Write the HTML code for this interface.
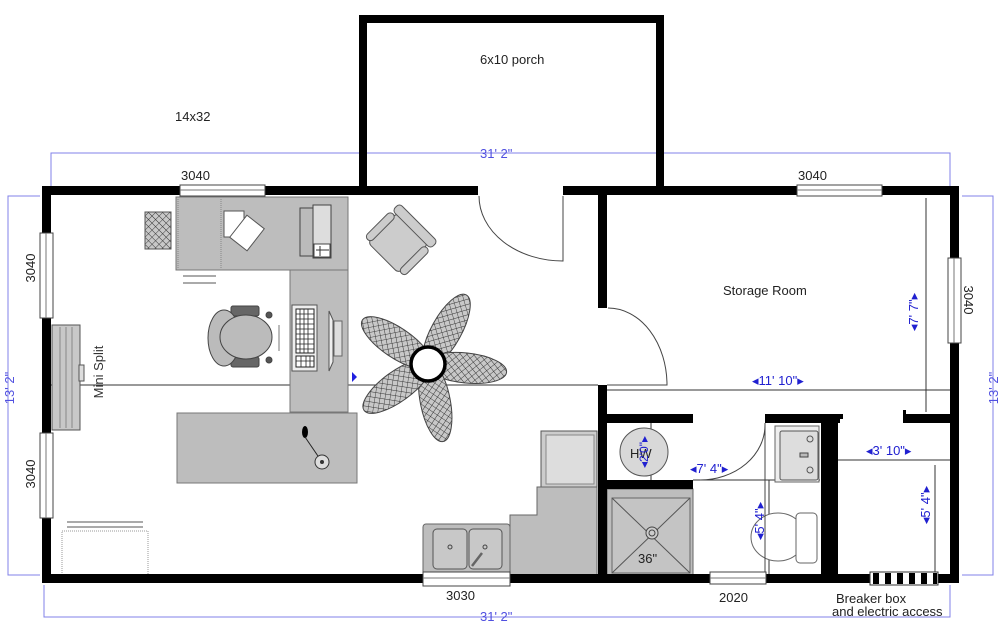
<!DOCTYPE html>
<html><head><meta charset="utf-8"><style>
html,body{margin:0;padding:0;background:#fff;}
svg{display:block;}
text{font-family:"Liberation Sans",sans-serif;}
</style></head><body>
<svg width="1000" height="627" viewBox="0 0 1000 627" xmlns="http://www.w3.org/2000/svg">
<defs>
<pattern id="hatch" width="5" height="5" patternUnits="userSpaceOnUse" patternTransform="rotate(45)">
<rect width="5" height="5" fill="#c8c8c8"/>
<path d="M0 0H5M0 0V5" stroke="#333" stroke-width="0.9"/>
</pattern>
</defs>
<rect width="1000" height="627" fill="#fff"/>

<g stroke="#8080e8" stroke-width="1" fill="none">
<path d="M51 186V153H950V186"/>
<path d="M44 585V617H950V585"/>
<path d="M40 196H8V575H40"/>
<path d="M962 196H993V575H962"/>
</g>
<g font-size="13">
<text x="480" y="158" fill="#5050e0">31' 2"</text>
<text x="480" y="621" fill="#5050e0">31' 2"</text>
<text transform="translate(14,388) rotate(-90)" fill="#5050e0" text-anchor="middle">13' 2"</text>
<text transform="translate(998,388) rotate(-90)" fill="#5050e0" text-anchor="middle">13' 2"</text>
</g>

<g stroke="#333" stroke-width="1" fill="none">
<path d="M51 385H598"/>
<path d="M607 390H950"/>
<path d="M926 198V412"/>
<path d="M838 460H950"/>
<path d="M935 465V575"/>
<path d="M693 480H820"/>
<path d="M769 480V575"/>
<path d="M651 423V480"/>
</g>

<g fill="#bdbdbd" stroke="#777" stroke-width="1">
<rect x="176" y="197" width="172" height="73"/>
<rect x="290" y="270" width="58" height="142"/>
<rect x="177" y="413" width="180" height="70"/>
</g>
<path d="M221 199V268" stroke="#888" stroke-dasharray="1 1"/>
<path d="M178 199V268" stroke="#888" stroke-dasharray="1 1"/>
<rect x="224" y="211" width="20" height="26" fill="#fff" stroke="#555"/>
<rect x="236" y="219" width="22" height="28" fill="#fff" stroke="#555" transform="rotate(38 247 233)"/>
<rect x="300" y="208" width="14" height="48" fill="#bbb" stroke="#444"/>
<rect x="313" y="205" width="18" height="53" fill="#ddd" stroke="#444"/>
<rect x="314" y="244" width="16" height="13" fill="#fff" stroke="#444"/>
<path d="M320 246V256M316 250H329" stroke="#333"/>
<rect x="145" y="212" width="26" height="37" fill="url(#hatch)" stroke="#555"/>
<path d="M183 276H216M183 283H216" stroke="#777" stroke-width="1.3"/>
<rect x="292" y="305" width="25" height="66" fill="#eee" stroke="#555"/>
<rect x="296" y="309" width="18" height="44" fill="#fff" stroke="#222"/>
<path d="M296 314H314M296 319H314M296 324H314M296 329H314M296 334H314M296 339H314M296 344H314M296 349H314M300 309V353M304 309V353M308 309V353" stroke="#222" stroke-width="0.8"/>
<rect x="296" y="356" width="18" height="11" fill="#fff" stroke="#222"/>
<path d="M296 361H314M301 356V367M306 356V367M310 356V367" stroke="#222" stroke-width="0.8"/>
<path d="M329 311L333 320V362L329 371Z" fill="#eee" stroke="#555"/>
<rect x="334" y="321" width="8" height="35" fill="#ddd" stroke="#666"/>
<g stroke="#444" fill="#bbb">
<rect x="231" y="306" width="28" height="10" fill="#666" rx="2"/>
<rect x="231" y="357" width="28" height="10" fill="#666" rx="2"/>
<ellipse cx="224" cy="338" rx="16" ry="28" fill="#bbb"/>
<ellipse cx="246" cy="337" rx="26" ry="22" fill="#bbb"/>
<circle cx="269" cy="315" r="3" fill="#555"/>
<circle cx="269" cy="360" r="3" fill="#555"/>
</g>
<path d="M279 325V351" stroke="#777"/>
<ellipse cx="305" cy="432" rx="3" ry="6" fill="#000"/>
<path d="M305 437L320 459" stroke="#222"/>
<circle cx="322" cy="462" r="7" fill="#ddd" stroke="#333"/>
<circle cx="322" cy="462" r="2" fill="#333"/>

<g transform="rotate(45 398 243)" fill="#ccc" stroke="#555">
<rect x="376" y="222" width="44" height="42" rx="5"/>
<rect x="371" y="214" width="54" height="10" rx="4"/>
<rect x="370" y="226" width="8" height="36" rx="4"/>
<rect x="418" y="226" width="8" height="36" rx="4"/>
</g>

<g fill="url(#hatch)" stroke="#444" stroke-width="1">
<ellipse cx="428" cy="364" rx="41" ry="15" transform="rotate(-61 428 364) translate(38 0)"/>
<ellipse cx="428" cy="364" rx="41" ry="15" transform="rotate(6 428 364) translate(38 0)"/>
<ellipse cx="428" cy="364" rx="41" ry="15" transform="rotate(79 428 364) translate(38 0)"/>
<ellipse cx="428" cy="364" rx="41" ry="15" transform="rotate(144 428 364) translate(38 0)"/>
<ellipse cx="428" cy="364" rx="41" ry="15" transform="rotate(214 428 364) translate(38 0)"/>
</g>
<circle cx="428" cy="364" r="17" fill="#fff" stroke="#000" stroke-width="3.5"/>
<path d="M352 372L357 377L352 382Z" fill="#2020e0"/>

<rect x="52" y="325" width="28" height="105" fill="#c8c8c8" stroke="#555"/>
<path d="M60 327V428M66 327V428M72 327V428" stroke="#888"/>
<rect x="79" y="365" width="5" height="16" fill="#ddd" stroke="#555"/>
<text transform="translate(103,372) rotate(-90)" font-size="13" fill="#333" text-anchor="middle">Mini Split</text>

<path d="M67 522H143M67 527H143" stroke="#777" stroke-width="1.3"/>
<rect x="62" y="531" width="86" height="44" fill="#fff" stroke="#999" stroke-dasharray="1 1"/>

<rect x="541" y="431" width="56" height="56" fill="#ccc" stroke="#555"/>
<rect x="546" y="435" width="48" height="49" fill="#ddd" stroke="#888"/>
<path d="M510 575V515H537V487H597V575Z" fill="#bdbdbd" stroke="#666"/>
<rect x="423" y="524" width="87" height="50" fill="#bdbdbd" stroke="#666" rx="3"/>
<rect x="433" y="529" width="34" height="40" fill="#c8c8c8" stroke="#555" rx="4"/>
<rect x="469" y="529" width="33" height="40" fill="#c8c8c8" stroke="#555" rx="4"/>
<circle cx="450" cy="547" r="2" fill="none" stroke="#444"/>
<circle cx="485" cy="547" r="2" fill="none" stroke="#444"/>
<path d="M472 566L482 553" stroke="#666" stroke-width="2.5"/>

<rect x="607" y="489" width="86" height="86" fill="#bdbdbd" stroke="#666"/>
<rect x="612" y="498" width="78" height="75" fill="#c4c4c4" stroke="#666"/>
<path d="M612 498L690 573M690 498L612 573" stroke="#555"/>
<circle cx="652" cy="533" r="6" fill="#ccc" stroke="#444"/>
<circle cx="652" cy="533" r="3" fill="none" stroke="#444"/>
<text x="638" y="563" font-size="13" fill="#222">36"</text>
<circle cx="644" cy="452" r="24" fill="#d8d8d8" stroke="#555"/>
<text x="630" y="458" font-size="13" fill="#222">HW</text>
<rect x="775" y="426" width="44" height="56" fill="#eee" stroke="#666"/>
<rect x="780" y="431" width="38" height="49" fill="#ddd" stroke="#555" rx="2"/>
<circle cx="810" cy="439" r="3" fill="none" stroke="#555"/>
<circle cx="810" cy="470" r="3" fill="none" stroke="#555"/>
<rect x="800" y="453" width="8" height="4" fill="#bbb" stroke="#444"/>
<ellipse cx="778" cy="537" rx="27" ry="24" fill="#fff" stroke="#666"/>
<rect x="796" y="513" width="21" height="50" rx="4" fill="#fff" stroke="#666"/>

<g fill="none" stroke="#444" stroke-width="1">
<path d="M479 196A84 65 0 0 0 563 261V196"/>
<path d="M608 308A59 77 0 0 1 667 385H607"/>
<path d="M765 425A65 55 0 0 1 700 480"/>
<path d="M765 423V575"/>
</g>

<g fill="#000">
<rect x="42" y="186" width="436" height="9"/>
<rect x="563" y="186" width="396" height="9"/>
<rect x="42" y="186" width="9" height="397"/>
<rect x="950" y="186" width="9" height="397"/>
<rect x="42" y="574" width="917" height="9"/>
<rect x="359" y="15" width="8" height="180"/>
<rect x="359" y="15" width="305" height="8"/>
<rect x="656" y="15" width="8" height="180"/>
<rect x="598" y="195" width="9" height="113"/>
<rect x="598" y="385" width="9" height="190"/>
<rect x="607" y="414" width="86" height="9"/>
<rect x="607" y="480" width="86" height="9"/>
<rect x="765" y="414" width="75" height="9"/>
<rect x="821" y="414" width="17" height="161"/>
<rect x="903" y="414" width="47" height="9"/>
</g>
<rect x="840" y="414" width="3" height="5" fill="#000"/>
<rect x="903" y="410" width="3" height="6" fill="#000"/>

<g fill="#fff" stroke="#444" stroke-width="1">
<rect x="180" y="185" width="85" height="11"/>
<rect x="797" y="185" width="85" height="11"/>
<rect x="40" y="233" width="13" height="85"/>
<rect x="40" y="433" width="13" height="85"/>
<rect x="948" y="258" width="13" height="85"/>
<rect x="423" y="572" width="87" height="14"/>
<rect x="710" y="572" width="56" height="12"/>
</g>
<g stroke="#777" stroke-width="1">
<path d="M180 190H265M797 190H882M423 578H510M710 578H766M46 233V318M46 433V518M954 258V343"/>
</g>
<rect x="870" y="572" width="68" height="13" fill="#fff" stroke="#333"/>
<g fill="#000">
<rect x="873" y="573" width="6" height="11"/><rect x="885" y="573" width="6" height="11"/><rect x="897" y="573" width="6" height="11"/><rect x="909" y="573" width="6" height="11"/><rect x="921" y="573" width="6" height="11"/><rect x="933" y="573" width="4" height="11"/>
</g>

<g font-size="13" fill="#222">
<text x="480" y="64">6x10 porch</text>
<text x="175" y="121">14x32</text>
<text x="181" y="180">3040</text>
<text x="798" y="180">3040</text>
<text transform="translate(35,268) rotate(-90)" text-anchor="middle">3040</text>
<text transform="translate(35,474) rotate(-90)" text-anchor="middle">3040</text>
<text transform="translate(964,300) rotate(90)" text-anchor="middle">3040</text>
<text x="446" y="600">3030</text>
<text x="719" y="602">2020</text>
<text x="723" y="295">Storage Room</text>
<text x="836" y="603">Breaker box</text>
<text x="832" y="616">and electric access</text>
</g>
<g font-size="13" fill="#2020d0">
<text x="752" y="385">◂11' 10"▸</text>
<text x="866" y="455">◂3' 10"▸</text>
<text x="690" y="473">◂7' 4"▸</text>
<text transform="translate(918,312) rotate(-90)" text-anchor="middle">◂7' 7"▸</text>
<text transform="translate(764,521) rotate(-90)" text-anchor="middle">◂5' 4"▸</text>
<text transform="translate(930,505) rotate(-90)" text-anchor="middle">◂5' 4"▸</text>
<text transform="translate(648,452) rotate(-90)" text-anchor="middle" font-size="12">◂2'0"▸</text>
</g>
</svg>
</body></html>
